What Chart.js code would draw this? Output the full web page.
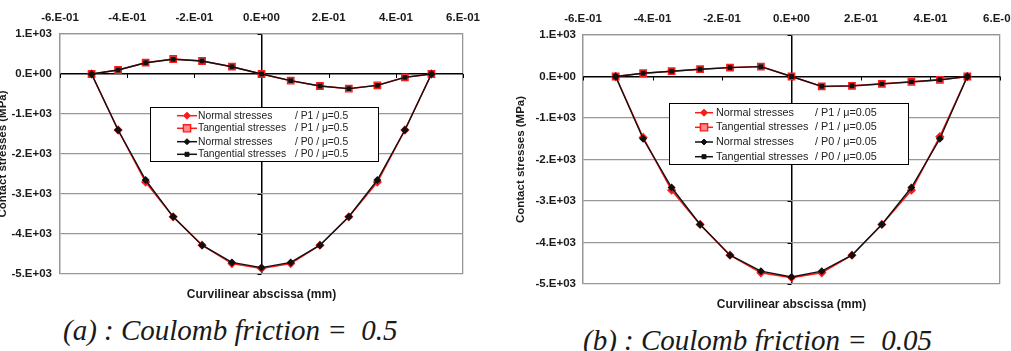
<!DOCTYPE html>
<html>
<head>
<meta charset="utf-8">
<script src="https://cdn.jsdelivr.net/npm/chart.js@4.4.0/dist/chart.umd.min.js"></script>
<style>
  html, body { margin: 0; padding: 0; background: #fff; overflow: hidden; width: 1011px; height: 351px; }
  #wrap { position: relative; width: 1011px; height: 351px; overflow: hidden; }
  canvas { position: absolute; }
  .cap { position: absolute; font-family: 'Liberation Serif', 'Times New Roman', serif; font-style: italic;
         font-size: 29px; line-height: 29px; color: #1a1a1a; white-space: pre; }
</style>
</head>
<body>
<div id="wrap">
  <canvas id="chartA" width="502" height="310" style="left:-2px;top:0"></canvas>
  <canvas id="chartB" width="540" height="320" style="left:500px;top:0"></canvas>
  <div class="cap" style="left:63px;top:316px">(a) : Coulomb friction =  0.5</div>
  <div class="cap" style="left:583px;top:326px">(b) : Coulomb friction =  0.05</div>
</div>
<script>
// curvilinear abscissa (mm), same nodes on both plots
const abscissa = [-0.506, -0.427, -0.345, -0.263, -0.177, -0.088, 0, 0.087, 0.174, 0.26, 0.345, 0.427, 0.506];

// (a) mu = 0.5
const normalP1_a = [0, -1400, -2700, -3570, -4280, -4740, -4860, -4740, -4280, -3570, -2700, -1400, 0];
const tangP1_a   = [0, 100, 283, 375, 325, 183, 0, -167, -300, -367, -283, -83, 0];
const normalP0_a = [0, -1400, -2650, -3570, -4280, -4710, -4840, -4710, -4280, -3570, -2650, -1400, 0];
const tangP0_a   = [0, 100, 280, 370, 325, 180, 0, -165, -300, -365, -285, -85, 0];

// (b) mu = 0.05
const normalP1_b = [0, -1470, -2740, -3566, -4306, -4730, -4845, -4730, -4306, -3566, -2740, -1450, 0];
const tangP1_b   = [0, 80, 128, 176, 216, 240, 0, -240, -226, -178, -130, -82, 0];
const normalP0_b = [0, -1500, -2675, -3566, -4306, -4690, -4830, -4690, -4306, -3566, -2675, -1500, 0];
const tangP0_b   = [0, 78, 126, 175, 215, 238, 0, -238, -225, -177, -130, -80, 0];

const seriesNames = ['Normal stresses', 'Tangential stresses', 'Normal stresses', 'Tangential stresses'];
const tagsA = ['/ P1 / \u03bc=0.5', '/ P1 / \u03bc=0.5', '/ P0 / \u03bc=0.5', '/ P0 / \u03bc=0.5'];
const tagsB = ['/ P1 / \u03bc=0.05', '/ P1 / \u03bc=0.05', '/ P0 / \u03bc=0.05', '/ P0 / \u03bc=0.05'];

const xTicks = { min: -0.6, max: 0.6, step: 0.2 };
const yTicks = { min: -5000, max: 1000, step: 1000 };

const SANS = "'Liberation Sans', Arial, sans-serif";
const RED = '#ff1a1a';
const BLACK = '#111111';
const GRID = '#979797';

function sci(v) {
  if (Math.abs(v) < 1e-9) return '0.E+00';
  const e = Math.floor(Math.log10(Math.abs(v)) + 1e-9);
  const m = Math.round(v / Math.pow(10, e));
  return m + '.E' + (e < 0 ? '-' : '+') + String(Math.abs(e)).padStart(2, '0');
}

const pts = ys => abscissa.map((x, i) => ({ x: x, y: ys[i] }));

function datasets(n1, t1, n0, t0) {
  return [
    { data: pts(n1), borderColor: RED, backgroundColor: RED, pointStyle: 'rectRot', pointRadius: 3.5, borderWidth: 1.6, order: 3 },
    { data: pts(t1), borderColor: RED, backgroundColor: '#ff8c8c', pointStyle: 'rect', pointRadius: 4.5, pointBorderWidth: 1.4, borderWidth: 1.6, order: 2 },
    { data: pts(n0), borderColor: BLACK, backgroundColor: BLACK, pointStyle: 'rectRot', pointRadius: 3, borderWidth: 1.4, order: 1 },
    { data: pts(t0), borderColor: BLACK, backgroundColor: BLACK, pointStyle: 'rect', pointRadius: 2.5, borderWidth: 1.4, order: 0 }
  ];
}

// small tick marks on the axes crossing at 0
const axisTicks = {
  id: 'axisTicks',
  beforeDatasetsDraw(chart) {
    const { ctx, scales: { x, y } } = chart;
    const y0 = y.getPixelForValue(0), x0 = x.getPixelForValue(0);
    ctx.save();
    ctx.strokeStyle = '#000';
    ctx.lineWidth = 1;
    x.ticks.forEach(t => {
      const px = Math.round(x.getPixelForValue(t.value)) + 0.5;
      ctx.beginPath(); ctx.moveTo(px, y0); ctx.lineTo(px, y0 + 4); ctx.stroke();
    });
    y.ticks.forEach(t => {
      const py = Math.round(y.getPixelForValue(t.value)) + 0.5;
      ctx.beginPath(); ctx.moveTo(x0 - 4, py); ctx.lineTo(x0, py); ctx.stroke();
    });
    ctx.restore();
  }
};

// boxed legend sitting inside the plot
const boxLegend = {
  id: 'boxLegend',
  afterDatasetsDraw(chart, args, o) {
    const ctx = chart.ctx;
    ctx.save();
    ctx.fillStyle = '#fff';
    ctx.fillRect(o.x, o.y, o.w, o.h);
    ctx.strokeStyle = '#000';
    ctx.lineWidth = 1;
    ctx.strokeRect(o.x + 0.5, o.y + 0.5, o.w, o.h);
    ctx.font = o.font;
    ctx.textBaseline = 'middle';
    chart.data.datasets.forEach((ds, i) => {
      const y = o.rows[i];
      const cx = o.lineX + o.lineW / 2;
      ctx.strokeStyle = ds.borderColor;
      ctx.lineWidth = 1.5;
      ctx.beginPath(); ctx.moveTo(o.lineX, y); ctx.lineTo(o.lineX + o.lineW, y); ctx.stroke();
      const r = ds.pointRadius;
      ctx.fillStyle = ds.backgroundColor;
      ctx.beginPath();
      if (ds.pointStyle === 'rectRot') {
        ctx.moveTo(cx, y - r); ctx.lineTo(cx + r, y); ctx.lineTo(cx, y + r); ctx.lineTo(cx - r, y); ctx.closePath();
      } else {
        ctx.rect(cx - r * 0.8, y - r * 0.8, r * 1.6, r * 1.6);
      }
      ctx.fill();
      ctx.lineWidth = ds.pointBorderWidth || 1;
      ctx.stroke();
      ctx.fillStyle = '#222';
      ctx.fillText(o.names[i], o.textX, y);
      ctx.fillText(o.tags[i], o.tagX, y);
    });
    ctx.restore();
  }
};

function makeChart(id, ds, cfg) {
  return new Chart(document.getElementById(id), {
    type: 'line',
    data: { datasets: ds },
    plugins: [axisTicks, boxLegend],
    options: {
      responsive: false,
      animation: false,
      devicePixelRatio: 1,
      layout: { padding: { left: 0, right: cfg.padRight, top: 0, bottom: 0 } },
      elements: { line: { tension: 0 } },
      plugins: {
        legend: { display: false },
        tooltip: { enabled: false },
        title: {
          display: true, position: 'bottom', fullSize: false,
          text: 'Curvilinear abscissa (mm)', color: '#1a1a1a',
          font: { family: SANS, size: 12, weight: 'bold', lineHeight: 1 },
          padding: cfg.titlePad
        },
        boxLegend: cfg.legend
      },
      scales: {
        x: {
          type: 'linear', position: 'top',
          min: xTicks.min, max: xTicks.max,
          afterFit: s => { s.height = cfg.topH; },
          ticks: {
            stepSize: xTicks.step, padding: cfg.xPad, color: '#1a1a1a',
            font: { family: SANS, size: 11.5, weight: 'bold' },
            callback: v => sci(v), maxRotation: 0, autoSkip: false
          },
          grid: {
            drawTicks: false,
            color: c => Math.abs(c.tick.value) < 1e-9 ? '#000' : (Math.abs(Math.abs(c.tick.value) - 0.6) < 1e-6 ? GRID : 'rgba(0,0,0,0)'),
            lineWidth: c => Math.abs(c.tick.value) < 1e-9 ? 1.5 : 1.3
          },
          border: { display: true, color: GRID, width: 1.3 }
        },
        y: {
          type: 'linear', position: 'left',
          min: yTicks.min, max: yTicks.max,
          afterFit: s => { s.width = cfg.leftW; },
          ticks: {
            stepSize: yTicks.step, padding: cfg.yPad, color: '#1a1a1a',
            font: { family: SANS, size: 11.5, weight: 'bold' },
            callback: v => sci(v)
          },
          title: {
            display: true, text: 'Contact stresses (MPa)', color: '#1a1a1a',
            font: { family: SANS, size: 11.5, weight: 'bold', lineHeight: 1.1 },
            padding: { top: cfg.yTitlePad, bottom: 0 }
          },
          grid: {
            drawTicks: false,
            color: c => Math.abs(c.tick.value) < 1e-9 ? '#000' : GRID,
            lineWidth: c => Math.abs(c.tick.value) < 1e-9 ? 1.5 : 1.3
          },
          border: { display: true, color: GRID, width: 1.3 }
        }
      }
    }
  });
}

makeChart('chartA', datasets(normalP1_a, tangP1_a, normalP0_a, tangP0_a), {
  padRight: 37, topH: 34, leftW: 62, xPad: 9, yPad: 8, yTitlePad: -1,
  titlePad: { top: 15, bottom: 9 },
  legend: {
    x: 152, y: 107, w: 228, h: 54, rows: [115.7, 128.3, 141.7, 154.3],
    lineX: 179, lineW: 20, textX: 200, tagX: 297,
    font: '10.3px ' + SANS, names: seriesNames, tags: tagsA
  }
});

makeChart('chartB', datasets(normalP1_b, tangP1_b, normalP0_b, tangP0_b), {
  padRight: 40, topH: 35, leftW: 83, xPad: 9, yPad: 7, yTitlePad: 15,
  titlePad: { top: 15, bottom: 9 },
  legend: {
    x: 169, y: 103, w: 239, h: 61, rows: [112.7, 127.3, 142, 156.7],
    lineX: 195, lineW: 18, textX: 216, tagX: 315,
    font: '10.8px ' + SANS, names: seriesNames, tags: tagsB
  }
});
</script>
</body>
</html>
